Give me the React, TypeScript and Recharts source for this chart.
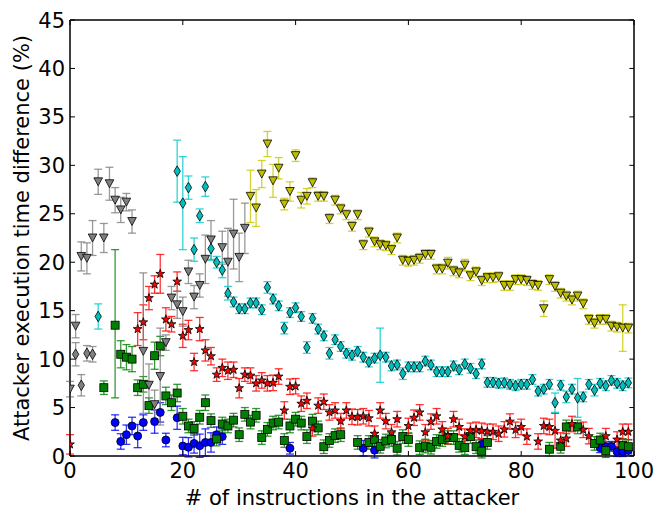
import React from "react";
import { ScatterChart, Scatter, XAxis, YAxis, ErrorBar, Label, ReferenceArea, ReferenceLine } from "recharts";

type Err = number | [number, number];

const xTicks = [0, 20, 40, 60, 80, 100];
const yTicks = [0, 5, 10, 15, 20, 25, 30, 35, 40, 45];

// blue circles
const blueX = [8, 9, 10, 11, 12, 13, 15, 16, 17, 19, 20, 21, 22, 23, 24, 25, 26, 27, 39, 52, 54, 73, 94, 95, 96, 97, 98, 99];
const blueY = [3.45, 1.5, 2.2, 3.1, 2.06, 3.45, 3.55, 4.5, 1.65, 3.95, 1.03, 0.9, 1.3, 1.06, 1.4, 1.4, 2.2, 2.0, 0.8, 0.8, 0.6, 1.2, 0.85, 0.95, 1.0, 0.45, 0.45, 0.6];
const blueErr: Err[] = [0.8, 0.8, 1.0, 0.9, 1.2, 0.8, 1.2, 1.0, 0.7, 1.2, 0.9, 1.0, 1.0, 1.2, 1.4, 1.0, 0.8, 0.8, 0.6, 0.8, 0.8, 0.5, 0.5, 0.5, 0.5, 0.5, 0.5, 0.5];

// green squares
const greenX = [6, 8, 9, 10, 11, 12, 13, 14, 15, 16, 17, 18, 19, 20, 21, 22, 23, 24, 25, 26, 27, 28, 29, 30, 31, 32, 33, 34, 35, 36, 37, 38, 39, 40, 41, 42, 43, 44, 45, 46, 47, 48, 51, 53, 54, 55, 56, 57, 58, 59, 60, 62, 63, 64, 65, 66, 67, 68, 69, 70, 71, 72, 73, 74, 85, 87, 88, 90, 93, 94, 95, 98, 99];
const greenY = [
  7.05, 13.5, 10.5, 10.2, 10.0, 7.05, 7.4, 5.2, 10.35, 11.35, 6.2,
  5.5, 6.5, 4.1, 3.1, 2.85, 4.0, 5.5, 3.65, 1.75, 3.3,
  3.1, 3.7, 2.2, 4.3, 3.5, 4.2, 1.9, 2.75, 3.4, 3.5,
  1.6, 3.1, 3.8, 3.4, 2.0, 3.6, 2.9, 0.96, 1.6, 2.1,
  2.2, 1.4, 1.4, 1.7, 1.0, 1.55, 1.7, 0.8, 2.0, 1.7,
  0.86, 1.03, 0.9, 1.5, 1.7, 1.9, 1.9, 1.1, 0.86, 2.0,
  0.96, 0.5, 1.4, 0.7, 1.0, 3.0, 3.0, 1.3, 1.65, 0.55, 1.1, 0.96,
];
const greenErr: Err[] = [
  0.7, [7.5, 7.8], 1.4, 1.3, 1.3, 0.8, 0.8, 0.8, 1.4, 1.0, 0.9,
  0.8, 0.9, 0.8, 0.7, 0.7, 0.7, 0.8, 0.7, 0.7, 0.7,
  0.7, 0.7, 0.7, 0.7, 0.7, 0.7, 0.7, 0.7, 0.7, 0.7,
  0.7, 0.7, 0.7, 0.7, 0.7, 0.7, 0.7, 0.7, 0.7, 0.7,
  0.7, 0.7, 0.7, 0.7, 0.7, 0.7, 0.7, 0.7, 0.7, 0.7,
  0.7, 0.7, 0.7, 0.7, 0.7, 0.7, 0.7, 0.7, 0.7, 0.7,
  0.7, 0.7, 0.7, 0.7, 0.7, 0.7, 0.7, 0.7, 0.7, 0.7, 0.7, 0.7,
];

// red stars
const redX = [0, 12, 13, 14, 15, 16, 17, 18, 19, 20, 21, 22, 23, 24, 25, 26, 27, 28, 29, 30, 31, 32, 33, 34, 35, 36, 37, 38, 39, 40, 41, 42, 43, 44, 45, 46, 47, 48, 49, 50, 51, 52, 53, 54, 55, 56, 57, 58, 60, 61, 62, 63, 64, 65, 66, 67, 68, 69, 70, 71, 72, 73, 74, 75, 76, 77, 78, 79, 80, 81, 83, 84, 85, 86, 87, 88, 89, 91, 92, 95, 97, 98, 99];
const redY = [
  1.2,
  13.1, 13.8, 16.3, 17.7, 18.8, 14.1, 13.6, 18.0, 12.4, 13.0,
  9.7, 13.1, 10.9, 10.3, 8.4, 9.1, 8.8, 8.9, 7.0, 8.4,
  8.3, 7.5, 7.8, 7.5, 7.55, 8.2, 4.7, 7.15, 7.2, 5.4,
  5.7, 2.85, 5.2, 5.6, 4.5, 4.7, 3.6, 4.7, 4.05, 4.0,
  4.1, 3.9, 2.3, 4.7, 3.6, 2.45, 3.8,
  3.1, 3.95, 4.5, 2.45, 3.55, 4.1, 2.75, 2.05, 3.8, 3.0,
  2.0, 2.6, 2.7, 2.6, 2.5, 2.5, 2.3, 2.75, 3.55, 2.7,
  3.0, 2.0,
  1.5, 3.1, 3.0, 2.6, 1.6, 1.8, 3.3,
  2.7, 2.05, 2.05, 1.7, 2.5, 2.5,
];
const redErr: Err[] = [
  1.0,
  1.7, 1.8, 1.2, 0.9, 2.0, 1.2, 0.8, 1.0, 1.2, 1.0,
  0.9, 1.2, 1.1, 0.9, 0.7, 0.9, 0.9, 0.8, 1.0, 0.7,
  0.8, 0.8, 0.8, 0.8, 0.8, 0.8, 0.9, 0.8, 0.8, 0.8,
  0.8, 0.8, 0.8, 0.8, 0.8, 0.8, 0.8, 0.8, 0.8, 0.8,
  0.8, 0.8, 0.8, 0.8, 0.8, 0.8, 0.8,
  0.8, 0.8, 0.8, 0.8, 0.8, 0.8, 0.8, 0.8, 0.8, 0.8,
  0.8, 0.8, 0.8, 0.8, 0.8, 0.8, 0.8, 0.8, 0.8, 0.8,
  0.8, 0.8,
  0.8, 0.8, 0.8, 1.8, 0.8, 0.8, 0.8,
  0.8, 0.8, 0.8, 0.8, 0.8, 0.8,
];

// grey triangles and diamonds
const greyTriX = [0, 1, 2, 3, 4, 5, 6, 7, 8, 9, 10, 11, 13, 14, 15, 16, 17, 18, 19, 20, 21, 22, 23, 24, 25, 27, 28, 29, 30, 31];
const greyTriY = [6.9, 13.4, 20.6, 20.4, 22.5, 28.3, 22.5, 28.1, 26.4, 25.4, 26.2, 24.2, 10.8, 7.3, 5.3, 8.2, 11.7, 16.3, 15.6, 14.9, 19.0, 16.4, 17.6, 20.3, 22.3, 21.5, 20.0, 22.9, 20.5, 23.5];
const greyTriErr: Err[] = [0.8, 1.2, 1.5, 1.6, 1.8, 1.3, 1.5, 1.7, 1.3, 1.3, 0.9, 1.2, [6.4, 8.1], 2.2, 1.5, [5, 5], 0.8, 1.2, 1.4, 1.5, 1.2, 1.2, 1.2, 2.5, 2.0, 1.7, 3.5, 3.6, 2.5, 2.6];
const greyDiaX = [1, 2, 3, 4];
const greyDiaY = [10.5, 7.3, 10.6, 10.5];
const greyDiaErr: Err[] = [1.2, 1.1, 0.8, 0.8];

// cyan diamonds
const cyanX = [5, 19, 20, 21, 22, 23, 24, 25, 26, 27, 28, 29, 30, 31, 32, 33, 34, 35, 36, 37, 38, 39, 40, 41, 42, 43, 44, 45, 46, 47, 48, 49, 50, 51, 52, 53, 54, 55, 56, 57, 58, 59, 60, 61, 62, 63, 64, 65, 66, 67, 68, 69, 70, 71, 72, 73, 74, 75, 76, 77, 78, 79, 80, 81, 82, 83, 84, 85, 86, 87, 88, 89, 90, 91, 92, 93, 94, 95, 96, 97, 98, 99];
const cyanY = [
  14.4, 29.4, 26.1, 27.7, 21.3, 24.8, 27.8, 21.4, 20.0, 19.2, 16.8,
  15.9, 15.2, 15.2, 15.8, 15.8, 15.1, 17.4, 16.2, 15.5, 13.2,
  14.8, 15.3, 14.4, 11.2, 14.2, 13.1, 12.4, 10.6, 12.0, 11.3,
  10.6, 10.4, 10.8, 10.2, 9.7, 10.1, 10.4, 10.2, 9.3, 9.4,
  8.5, 9.2, 9.2, 9.2, 9.8, 9.4, 8.7, 8.7, 8.7, 9.3,
  8.9, 9.5, 9.05, 8.5, 9.5, 7.6, 7.6, 7.5, 7.55, 7.4,
  7.25, 7.4, 7.4, 7.9, 6.7, 6.9, 7.4, 5.5, 7.3, 6.1,
  6.9, 6.0, 6.1, 7.4, 6.8, 7.5, 7.25, 7.8, 7.5, 7.25,
  7.55,
];
const cyanErr: Err[] = [
  1.3, 3.2, 4.8, 1.2, 1.2, 0.7, 1.0, 1.2, 0.6, 0.8, 0.7,
  0.5, 0.5, 0.5, 0.5, 0.5, 0.5, 0.6, 0.5, 0.5, 0.6,
  0.5, 0.5, 0.5, 0.6, 0.5, 0.5, 0.5, 0.6, 0.5, 0.5,
  0.5, 0.5, 0.5, 0.5, 0.5, 0.5, 2.8, 0.5, 0.5, 0.5,
  0.6, 0.5, 0.5, 0.5, 0.5, 0.5, 0.5, 0.5, 0.5, 0.5,
  0.5, 0.5, 0.5, 0.5, 0.5, 0.5, 0.5, 0.5, 0.5, 0.5,
  0.5, 0.5, 0.5, 0.5, 0.5, 0.5, 0.5, 1.0, 0.5, 0.6,
  0.5, 2.0, 0.5, 0.5, 0.6, 0.5, 0.5, 0.5, 0.5, 0.5,
  0.5,
];

// yellow triangles
const yellowX = [32, 33, 34, 35, 36, 37, 38, 39, 40, 41, 42, 43, 44, 45, 46, 47, 48, 49, 50, 51, 52, 53, 54, 55, 56, 57, 58, 59, 60, 61, 62, 63, 64, 65, 66, 67, 68, 69, 70, 71, 72, 73, 74, 75, 76, 77, 78, 79, 80, 81, 82, 83, 84, 85, 86, 87, 88, 89, 90, 91, 92, 93, 94, 95, 96, 97, 98, 99];
const yellowY = [
  26.8, 25.6, 29.1, 32.2, 28.4, 29.7, 26.0, 27.3, 31.0, 26.4,
  26.8, 28.2, 26.8, 26.8, 24.5, 26.4, 25.5, 24.9, 23.7, 24.9,
  21.8, 23.1, 22.1, 21.8, 21.7, 21.3, 22.5, 20.2, 20.1, 20.2,
  20.4, 20.8, 20.8, 19.3, 19.3, 19.9, 19.1, 18.9, 19.7, 18.6,
  19.0, 18.1, 18.4, 18.4, 18.5, 17.6, 17.6, 18.2, 18.2, 18.1,
  17.7, 17.6, 15.2, 18.2, 17.5, 16.8, 16.5, 16.1, 16.5, 15.7,
  14.1, 13.7, 14.1, 14.1, 13.4, 13.3, 13.2, 13.2,
];
const yellowErr: Err[] = [
  2.7, 1.9, 1.4, 1.3, 1.7, 1.1, 0.6, 1.0, 0.6, 0.8,
  0.8, 0.5, 0.5, 0.5, 0.5, 0.5, 0.5, 0.5, 0.5, 0.5,
  0.5, 0.5, 0.5, 0.5, 0.5, 0.5, 0.5, 0.5, 0.5, 0.5,
  0.5, 0.5, 0.5, 0.5, 0.5, 0.6, 0.5, 0.5, 0.6, 0.5,
  0.5, 0.5, 0.5, 0.5, 0.5, 0.5, 0.5, 0.5, 0.5, 0.5,
  0.5, 0.5, 0.8, 0.5, 0.5, 0.5, 0.5, 0.5, 0.5, 0.5,
  0.5, 0.5, 0.5, 0.5, 0.5, 0.5, 2.4, 0.5,
];

const toRows = (xs: number[], ys: number[], es: Err[]) => xs.map((x, i) => ({ x, y: ys[i], e: es[i] }));

const edge = "#000";
const ew = 0.8;

const Dot = (p: any) => <circle cx={p.cx} cy={p.cy} r={4} fill="#0000ff" stroke={edge} strokeWidth={ew} />;
const Sq = (p: any) => <rect x={p.cx - 4} y={p.cy - 4} width={8} height={8} fill="#008000" stroke={edge} strokeWidth={ew} />;
const Star = (p: any) => {
  const pts: string[] = [];
  for (let i = 0; i < 10; i++) {
    const a = (-90 + i * 36) * Math.PI / 180;
    const r = i % 2 === 0 ? 4.6 : 1.8;
    pts.push(`${p.cx + r * Math.cos(a)},${p.cy + r * Math.sin(a)}`);
  }
  return <polygon points={pts.join(" ")} fill="#ff0000" stroke={edge} strokeWidth={ew} />;
};
const triDown = (fill: string) => (p: any) => (
  <path d={`M${p.cx - 4.3},${p.cy - 4}L${p.cx + 4.3},${p.cy - 4}L${p.cx},${p.cy + 4}Z`} fill={fill} stroke={edge} strokeWidth={ew} />
);
const thinDia = (fill: string) => (p: any) => (
  <path d={`M${p.cx},${p.cy - 5.3}L${p.cx + 3.2},${p.cy}L${p.cx},${p.cy + 5.3}L${p.cx - 3.2},${p.cy}Z`} fill={fill} stroke={edge} strokeWidth={ew} />
);

const BottomTick = (p: any) => (
  <g>
    <line x1={p.x} y1={p.y} x2={p.x} y2={p.y - 5} stroke="#000" />
    <text x={p.x} y={p.y + 21.5} textAnchor="middle" fontSize={21} fill="#000">{p.payload.value}</text>
  </g>
);
const LeftTick = (p: any) => (
  <g>
    <line x1={p.x} y1={p.y} x2={p.x + 5} y2={p.y} stroke="#000" />
    <text x={p.x - 5} y={p.y + 7.6} textAnchor="end" fontSize={21} fill="#000">{p.payload.value}</text>
  </g>
);
const TopTick = (p: any) => <line x1={p.x} y1={p.y} x2={p.x} y2={p.y + 5} stroke="#000" />;
const RightTick = (p: any) => <line x1={p.x} y1={p.y} x2={p.x - 5} y2={p.y} stroke="#000" />;

// tick marks along the top and right spines (length of about 5px in data units)
const topTickLen = 0.9;
const rightTickLen = 0.9;

const series = [
  { key: "blue", rows: toRows(blueX, blueY, blueErr), shape: Dot, bar: "#0000ff" },
  { key: "green", rows: toRows(greenX, greenY, greenErr), shape: Sq, bar: "#008000" },
  { key: "red", rows: toRows(redX, redY, redErr), shape: Star, bar: "#ff0000" },
  { key: "greyTri", rows: toRows(greyTriX, greyTriY, greyTriErr), shape: triDown("#808080"), bar: "#808080" },
  { key: "greyDia", rows: toRows(greyDiaX, greyDiaY, greyDiaErr), shape: thinDia("#808080"), bar: "#808080" },
  { key: "cyan", rows: toRows(cyanX, cyanY, cyanErr), shape: thinDia("#00bfbf"), bar: "#00c8c8" },
  { key: "yellow", rows: toRows(yellowX, yellowY, yellowErr), shape: triDown("#bfbf00"), bar: "#c8c800" },
];

export default function App() {
  return (
    <div style={{ position: "absolute", left: 0, top: 0, width: 664, height: 520, background: "#fff", fontFamily: "'DejaVu Sans'" }}>
      <ScatterChart width={664} height={520} margin={{ top: 19, right: 29, bottom: 0, left: 0 }}>
        <XAxis dataKey="x" type="number" domain={[0, 100]} ticks={xTicks} interval={0} allowDataOverflow height={64} tickSize={0} tickMargin={0} tickLine={false} tick={BottomTick} stroke="#000">
          <Label
            content={({ viewBox }: any) => (
              <text x={viewBox.x + viewBox.width / 2} y={viewBox.y + 49} textAnchor="middle" fontSize={21} fill="#000">
                # of instructions in the attacker
              </text>
            )}
          />
        </XAxis>
        <XAxis xAxisId="top" dataKey="x" orientation="top" type="number" domain={[0, 100]} ticks={xTicks} interval={0} height={1} tickSize={0} tickMargin={0} tickLine={false} tick={TopTick} stroke="#000" />
        <YAxis dataKey="y" type="number" domain={[0, 45]} ticks={yTicks} interval={0} allowDataOverflow width={70} tickSize={0} tickMargin={0} tickLine={false} tick={LeftTick} stroke="#000">
          <Label
            content={({ viewBox }: any) => {
              const cy = viewBox.y + viewBox.height / 2;
              return (
                <text x={28.5} y={cy} transform={`rotate(-90, 28.5, ${cy})`} textAnchor="middle" fontSize={21} fill="#000">
                  Attacker execution time difference (%)
                </text>
              );
            }}
          />
        </YAxis>
        <YAxis yAxisId="right" dataKey="y" orientation="right" type="number" domain={[0, 45]} ticks={yTicks} interval={0} width={1} tickSize={0} tickMargin={0} tickLine={false} tick={RightTick} stroke="#000" />
        {series.map((s) => (
          <Scatter key={s.key} data={s.rows} shape={s.shape} isAnimationActive={false}>
            <ErrorBar dataKey="e" direction="y" width={4} stroke={s.bar} strokeWidth={1.3} strokeOpacity={0.8} isAnimationActive={false} />
          </Scatter>
        ))}
        <Scatter xAxisId="top" yAxisId="right" data={[]} isAnimationActive={false} />
        {xTicks.map((t) => (
          <ReferenceLine key={`tt${t}`} segment={[{ x: t, y: 45 }, { x: t, y: 45 - 0.52 }]} stroke="#000" ifOverflow="visible" />
        ))}
        {yTicks.map((t) => (
          <ReferenceLine key={`rt${t}`} segment={[{ x: 100, y: t }, { x: 100 - topTickLen * rightTickLen, y: t }]} stroke="#000" ifOverflow="visible" />
        ))}
        <ReferenceArea x1={0} x2={100} y1={0} y2={45} fill="none" stroke="#000" strokeWidth={1} ifOverflow="visible" />
      </ScatterChart>
    </div>
  );
}
